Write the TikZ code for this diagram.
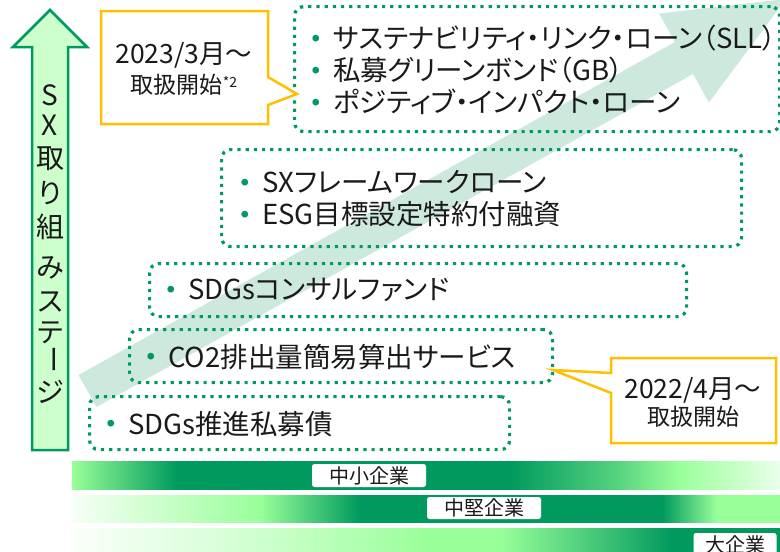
\documentclass[tikz,border=0pt]{standalone}
\usepackage{fontspec}
\setmainfont{Noto Sans CJK JP}[RawFeature={+palt}]
\newfontfamily\plainjp{Noto Sans CJK JP}
\definecolor{dg}{HTML}{009A5E}
\definecolor{lgfill}{HTML}{CCFFCC}
\definecolor{mint}{HTML}{CDE9DD}
\definecolor{yel}{HTML}{FFC000}
\definecolor{lg}{HTML}{99FF99}
\definecolor{txt}{HTML}{1A1A1A}
\colorlet{lgA}{lg!20!white}
\colorlet{lgB}{lg!8!white}
\colorlet{lgC}{lg!45!white}
\colorlet{lgD}{lg!4!white}
\colorlet{midg}{lg!55!dg}
% x mapped to bp: bp = 25 + 50*(x-72)/708
\pgfdeclarehorizontalshading{barA}{100bp}{color(0bp)=(lg); color(25bp)=(lg); color(32.4bp)=(dg); color(55.9bp)=(dg); color(63.4bp)=(midg); color(67.8bp)=(lg); color(75bp)=(lgA); color(100bp)=(lgA)}
\pgfdeclarehorizontalshading{barB}{100bp}{color(0bp)=(lgB); color(25bp)=(lgB); color(38.3bp)=(lg); color(45.3bp)=(dg); color(66.7bp)=(dg); color(70.5bp)=(lg); color(75bp)=(lg); color(100bp)=(lg)}
\pgfdeclarehorizontalshading{barC}{100bp}{color(0bp)=(lgD); color(25bp)=(lgD); color(37.6bp)=(lgC); color(50.3bp)=(lg); color(55.2bp)=(lg); color(67.4bp)=(dg); color(75bp)=(dg); color(100bp)=(dg)}
\newcommand{\itm}[1]{\makebox[21pt][l]{\raisebox{7.5pt}{\color{dg}\plainjp\fontsize{7.5pt}{7.5pt}\selectfont ●}}#1}
\begin{document}
\begin{tikzpicture}[x=1pt,y=-1pt,
  dotbox/.style={draw=dg, line width=3.2pt, dash pattern=on 3.2pt off 5pt, rounded corners=9pt, inner sep=0pt},
  boxtext/.style={anchor=west, align=left, inner sep=0pt, text=txt, font=\fontsize{27.5pt}{32pt}\selectfont},
  calltext/.style={inner sep=0pt, text=txt, font=\fontsize{26.5pt}{30pt}\selectfont},
  callshape/.style={draw=yel, line width=2.5pt, fill=white, line join=miter},
  vchar/.style={inner sep=0pt, text=txt, font=\fontsize{28pt}{28pt}\selectfont},
  barlbl/.style={fill=white, rounded corners=2.5pt, inner sep=0pt, text=txt, font=\fontsize{20pt}{20pt}\selectfont}]
\useasboundingbox (0,0) rectangle (780,552);
\clip (0,0) rectangle (780,552);

% big diagonal arrow
\fill[mint] (78.5,375) -- (675,42) -- (659,13.5) -- (786,-1) -- (709,102.5) -- (693,74) -- (96.5,407) -- cycle;

% vertical stage arrow
\draw[dg, line width=2.5pt, fill=lgfill, line join=miter] (50,10) -- (87,47) -- (68,47) -- (68,450) -- (32,450) -- (32,47) -- (13,47) -- cycle;
\node[vchar] (v1) at (50,95) {S};
\node[vchar] (v2) at (50,125) {X};
\node[vchar] (v3) at (50,159) {取};
\node[vchar] (v4) at (50,193) {り};
\node[vchar] (v5) at (50,227) {組};
\node[vchar] (v6) at (50,268) {み};
\node[vchar] (v7) at (50,302) {ス};
\node[vchar] (v8) at (50,333) {テ};
\node[vchar, rotate=-90] (v9) at (50,359) {ー};
\node[vchar] (v10) at (50,392) {ジ};

% dotted boxes
\node[dotbox, anchor=north west, minimum width=485pt, minimum height=125pt] (box1) at (293,5) {};
\node[dotbox, anchor=north west, minimum width=520pt, minimum height=97pt] (box2) at (220,148) {};
\node[dotbox, anchor=north west, minimum width=537pt, minimum height=53pt] (box3) at (148,262) {};
\node[dotbox, anchor=north west, minimum width=423pt, minimum height=53pt] (box4) at (128,328) {};
\node[dotbox, anchor=north west, minimum width=420pt, minimum height=53pt] (box5) at (88,395) {};

\node[boxtext] (t1) at (312,70) {\itm{サステナビリティ・リンク・ローン（SLL）}\\\itm{私募グリーンボンド（GB）}\\\itm{ポジティブ・インパクト・ローン}};
\node[boxtext] (t2) at (241,199) {\itm{SXフレームワークローン}\\\itm{ESG目標設定特約付融資}};
\node[boxtext] (t3) at (167,290) {\itm{SDGsコンサルファンド}};
\node[boxtext] (t4) at (147,357) {\itm{CO2排出量簡易算出サービス}};
\node[boxtext] (t5) at (107,424) {\itm{SDGs推進私募債}};

% callouts
\draw[callshape] (101,11) -- (268,11) -- (268,77) -- (297,94) -- (268,105) -- (268,124) -- (101,124) -- cycle;
\node[calltext] (c1a) at (184,55) {2023/3月～};
\node[calltext, font=\fontsize{23pt}{23pt}\selectfont] (c1b) at (184,85) {取扱開始\raisebox{6pt}{\fontsize{14pt}{14pt}\selectfont *2}};

\draw[callshape] (611,358) -- (776,358) -- (776,443) -- (611,443) -- (611,393) -- (553,370) -- (611,373) -- cycle;
\node[calltext] (c2a) at (693,390) {2022/4月～};
\node[calltext, font=\fontsize{23pt}{23pt}\selectfont] (c2b) at (693,417) {取扱開始};

% bars
\shade[shading=barA] (72,461) rectangle (780,489);
\shade[shading=barB] (72,495) rectangle (780,522);
\shade[shading=barC] (72,528) rectangle (780,556);
\node[barlbl, minimum width=114pt, minimum height=23pt] (l1) at (369,475.5) {中小企業};
\node[barlbl, minimum width=114pt, minimum height=22pt] (l2) at (484,508) {中堅企業};
\node[barlbl, minimum width=83pt, minimum height=24pt] (l3) at (735,545) {大企業};
\end{tikzpicture}
\end{document}
